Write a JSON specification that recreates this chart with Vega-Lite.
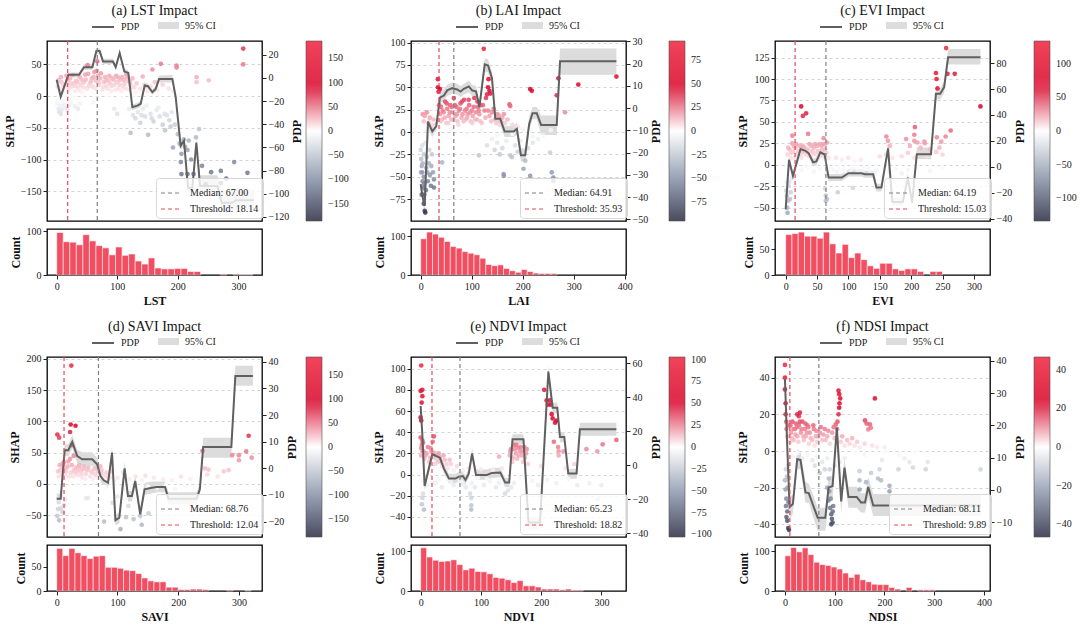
{
  "$schema": "https://vega.github.io/schema/vega-lite/v6.json",
  "padding": {"left": 2, "top": 3, "right": 0, "bottom": 0},
  "config": {
    "font": "Liberation Serif",
    "view": {"stroke": "black", "strokeWidth": 1.3},
    "axis": {"labelFont": "Liberation Serif", "titleFont": "Liberation Serif", "labelFontSize": 10, "titleFontSize": 12, "titleFontWeight": "bold", "labelColor": "#222", "titleColor": "#111", "tickColor": "#222", "domain": false, "grid": false, "gridDash": [3, 3], "gridColor": "#d4d4d4", "tickSize": 4, "labelPadding": 2, "titlePadding": 4},
    "legend": {"labelFont": "Liberation Serif", "labelFontSize": 10, "labelColor": "#222"},
    "title": {"font": "Liberation Serif", "fontSize": 14, "fontWeight": "normal", "color": "#111", "offset": -3}
  },
  "datasets": {
    "sa": [{"x":2,"s":15},{"x":5,"s":8},{"x":8,"s":22},{"x":10,"s":12},{"x":12,"s":5},{"x":15,"s":18},{"x":18,"s":25},{"x":20,"s":10},{"x":22,"s":28},{"x":25,"s":15},{"x":28,"s":20},{"x":30,"s":8},{"x":32,"s":24},{"x":35,"s":14},{"x":38,"s":30},{"x":40,"s":18},{"x":42,"s":6},{"x":45,"s":22},{"x":48,"s":26},{"x":50,"s":12},{"x":52,"s":35},{"x":55,"s":20},{"x":58,"s":28},{"x":60,"s":15},{"x":62,"s":38},{"x":65,"s":24},{"x":68,"s":32},{"x":70,"s":18},{"x":72,"s":28},{"x":75,"s":10},{"x":78,"s":22},{"x":80,"s":30},{"x":82,"s":16},{"x":85,"s":25},{"x":88,"s":20},{"x":90,"s":8},{"x":92,"s":28},{"x":95,"s":18},{"x":98,"s":32},{"x":100,"s":22},{"x":102,"s":12},{"x":105,"s":26},{"x":108,"s":30},{"x":110,"s":15},{"x":112,"s":20},{"x":115,"s":34},{"x":118,"s":24},{"x":120,"s":10},{"x":122,"s":18},{"x":125,"s":28},{"x":128,"s":14},{"x":130,"s":6},{"x":5,"s":-3},{"x":15,"s":2},{"x":25,"s":-2},{"x":45,"s":3},{"x":65,"s":-4},{"x":85,"s":2},{"x":105,"s":-3},{"x":125,"s":2},{"x":140,"s":3},{"x":150,"s":-2},{"x":160,"s":4},{"x":170,"s":2},{"x":180,"s":-4},{"x":1,"s":-12},{"x":3,"s":-20},{"x":4,"s":-25},{"x":6,"s":-15},{"x":8,"s":-22},{"x":10,"s":-8},{"x":14,"s":-18},{"x":20,"s":-14},{"x":30,"s":-16},{"x":38,"s":-12},{"x":60,"s":-10},{"x":95,"s":-20},{"x":100,"s":-28},{"x":132,"s":20},{"x":138,"s":12},{"x":142,"s":31},{"x":145,"s":18},{"x":150,"s":8},{"x":155,"s":15},{"x":158,"s":42},{"x":162,"s":22},{"x":166,"s":10},{"x":172,"s":51},{"x":175,"s":18},{"x":185,"s":12},{"x":192,"s":8},{"x":198,"s":48},{"x":198,"s":45},{"x":231,"s":30},{"x":231,"s":22},{"x":251,"s":25},{"x":308,"s":75},{"x":308,"s":50},{"x":67,"s":55},{"x":51,"s":49},{"x":120,"s":-20},{"x":122,"s":-58},{"x":126,"s":-30},{"x":130,"s":-35},{"x":134,"s":-25},{"x":138,"s":-42},{"x":142,"s":-20},{"x":146,"s":-32},{"x":151,"s":-61},{"x":155,"s":-28},{"x":160,"s":-40},{"x":165,"s":-22},{"x":170,"s":-32},{"x":175,"s":-45},{"x":179,"s":-54},{"x":182,"s":-30},{"x":186,"s":-38},{"x":190,"s":-25},{"x":192,"s":-81},{"x":195,"s":-45},{"x":200,"s":-60},{"x":203,"s":-75},{"x":206,"s":-91},{"x":205,"s":-104},{"x":206,"s":-123},{"x":210,"s":-68},{"x":212,"s":-80},{"x":216,"s":-85},{"x":216,"s":-123},{"x":218,"s":-70},{"x":222,"s":-100},{"x":226,"s":-123},{"x":230,"s":-65},{"x":235,"s":-52},{"x":240,"s":-110},{"x":246,"s":-139},{"x":255,"s":-120},{"x":271,"s":-118},{"x":271,"s":-137},{"x":280,"s":-130},{"x":293,"s":-104},{"x":315,"s":-121},{"x":3,"s":25},{"x":7,"s":30},{"x":11,"s":18},{"x":16,"s":32},{"x":19,"s":14},{"x":23,"s":20},{"x":27,"s":33},{"x":31,"s":16},{"x":34,"s":22},{"x":37,"s":10},{"x":41,"s":26},{"x":44,"s":14},{"x":47,"s":34},{"x":53,"s":16},{"x":57,"s":24},{"x":61,"s":30},{"x":64,"s":12},{"x":66,"s":40},{"x":69,"s":22},{"x":73,"s":36},{"x":77,"s":14},{"x":81,"s":24},{"x":84,"s":12},{"x":87,"s":32},{"x":91,"s":16},{"x":94,"s":26},{"x":97,"s":10},{"x":101,"s":30},{"x":104,"s":18},{"x":107,"s":8},{"x":111,"s":26},{"x":114,"s":12},{"x":117,"s":30},{"x":121,"s":22},{"x":124,"s":14},{"x":2,"s":-8},{"x":7,"s":-28},{"x":12,"s":-14},{"x":17,"s":-22},{"x":24,"s":-10},{"x":35,"s":-20},{"x":140,"s":-30},{"x":148,"s":-15},{"x":157,"s":-35},{"x":168,"s":-18},{"x":178,"s":-28},{"x":188,"s":-48}],
    "pa": [{"x":0,"p":-1.7,"lo":-4,"hi":1},{"x":6.6,"p":-16.2,"lo":-18.5,"hi":-14},{"x":19.3,"p":2.6,"lo":0.5,"hi":4.7},{"x":36.9,"p":2.6,"lo":0.5,"hi":4.7},{"x":45.1,"p":9.2,"lo":7,"hi":11.5},{"x":58.9,"p":9.2,"lo":7,"hi":11.5},{"x":65.5,"p":23.1,"lo":20.5,"hi":25.5},{"x":71,"p":23.1,"lo":20.5,"hi":25.5},{"x":76.5,"p":14.1,"lo":12,"hi":16.5},{"x":93,"p":14.1,"lo":12,"hi":16.5},{"x":97.4,"p":9.2,"lo":7,"hi":11.5},{"x":104,"p":21.4,"lo":19,"hi":24},{"x":111.7,"p":5.5,"lo":3,"hi":8},{"x":118.3,"p":4.3,"lo":2,"hi":6.5},{"x":124.9,"p":-25.4,"lo":-28,"hi":-23},{"x":133.2,"p":-24,"lo":-26.5,"hi":-21.5},{"x":138.7,"p":-22.5,"lo":-25,"hi":-20},{"x":145.3,"p":-6.6,"lo":-9,"hi":-4},{"x":150.8,"p":-7.2,"lo":-9.5,"hi":-5},{"x":158,"p":-12.4,"lo":-15,"hi":-10},{"x":163.5,"p":-9.5,"lo":-12,"hi":-7},{"x":169,"p":-0.9,"lo":-4,"hi":2},{"x":191,"p":-0.9,"lo":-4,"hi":2.5},{"x":196.5,"p":-16.7,"lo":-20,"hi":-13.5},{"x":204.7,"p":-58.6,"lo":-62,"hi":-55},{"x":210.2,"p":-54.2,"lo":-58,"hi":-50.5},{"x":216.8,"p":-94.8,"lo":-98,"hi":-91},{"x":224,"p":-94.8,"lo":-98,"hi":-91},{"x":230.6,"p":-55.8,"lo":-60,"hi":-52},{"x":236.7,"p":-93.2,"lo":-98,"hi":-84},{"x":265.3,"p":-93.2,"lo":-98,"hi":-84},{"x":272.5,"p":-107.7,"lo":-116,"hi":-97},{"x":290.1,"p":-107.7,"lo":-116,"hi":-97},{"x":295.6,"p":-105.6,"lo":-114,"hi":-96},{"x":325.9,"p":-105.6,"lo":-114,"hi":-96}],
    "ha": [{"b0":0,"b1":10.8,"n":97},{"b0":10.8,"b1":21.6,"n":76},{"b0":21.6,"b1":32.4,"n":75},{"b0":32.4,"b1":43.2,"n":69},{"b0":43.2,"b1":54,"n":92},{"b0":54,"b1":64.8,"n":78},{"b0":64.8,"b1":75.6,"n":67},{"b0":75.6,"b1":86.4,"n":62},{"b0":86.4,"b1":97.2,"n":46},{"b0":97.2,"b1":108,"n":64},{"b0":108,"b1":118.8,"n":45},{"b0":118.8,"b1":129.6,"n":48},{"b0":129.6,"b1":140.4,"n":32},{"b0":140.4,"b1":151.2,"n":25},{"b0":151.2,"b1":162,"n":39},{"b0":162,"b1":172.8,"n":16},{"b0":172.8,"b1":183.6,"n":14},{"b0":183.6,"b1":194.4,"n":14},{"b0":194.4,"b1":205.2,"n":15},{"b0":205.2,"b1":216,"n":15},{"b0":216,"b1":226.8,"n":8},{"b0":226.8,"b1":237.6,"n":8},{"b0":270,"b1":280.8,"n":2},{"b0":291.6,"b1":302.4,"n":2},{"b0":302.4,"b1":313.2,"n":1},{"b0":313.2,"b1":324,"n":1}],
    "sb": [{"x":33.8,"s":59},{"x":33.8,"s":50},{"x":37.7,"s":48},{"x":35,"s":45},{"x":123.6,"s":93},{"x":133,"s":59},{"x":132,"s":50},{"x":134.8,"s":46},{"x":136.6,"s":43},{"x":130,"s":42},{"x":128,"s":38},{"x":214.6,"s":48},{"x":217.9,"s":46},{"x":270,"s":60},{"x":266.7,"s":41},{"x":309,"s":53},{"x":383.7,"s":62},{"x":283,"s":22},{"x":174,"s":31},{"x":175.6,"s":29},{"x":4,"s":20},{"x":6,"s":12},{"x":8,"s":18},{"x":12,"s":22},{"x":15,"s":10},{"x":18,"s":16},{"x":22,"s":8},{"x":25,"s":14},{"x":28,"s":6},{"x":38,"s":20},{"x":40,"s":28},{"x":42,"s":14},{"x":45,"s":22},{"x":48,"s":34},{"x":50,"s":10},{"x":52,"s":26},{"x":55,"s":18},{"x":58,"s":30},{"x":60,"s":14},{"x":62,"s":22},{"x":65,"s":38},{"x":68,"s":18},{"x":70,"s":28},{"x":72,"s":12},{"x":75,"s":24},{"x":78,"s":32},{"x":80,"s":16},{"x":82,"s":20},{"x":85,"s":36},{"x":88,"s":14},{"x":90,"s":26},{"x":92,"s":20},{"x":95,"s":30},{"x":98,"s":12},{"x":100,"s":24},{"x":102,"s":18},{"x":105,"s":38},{"x":108,"s":22},{"x":110,"s":14},{"x":112,"s":28},{"x":115,"s":20},{"x":118,"s":30},{"x":120,"s":10},{"x":125,"s":24},{"x":135,"s":18},{"x":140,"s":22},{"x":145,"s":14},{"x":150,"s":20},{"x":155,"s":8},{"x":160,"s":16},{"x":165,"s":10},{"x":170,"s":14},{"x":180,"s":8},{"x":190,"s":6},{"x":10,"s":2},{"x":30,"s":-2},{"x":60,"s":3},{"x":90,"s":-3},{"x":120,"s":2},{"x":150,"s":-4},{"x":180,"s":-2},{"x":200,"s":3},{"x":220,"s":-5},{"x":240,"s":-4},{"x":255,"s":2},{"x":0,"s":-20},{"x":1,"s":-30},{"x":2,"s":-38},{"x":3,"s":-45},{"x":4,"s":-55},{"x":5,"s":-62},{"x":6,"s":-50},{"x":7,"s":-70},{"x":8,"s":-88},{"x":9,"s":-90},{"x":10,"s":-65},{"x":11,"s":-40},{"x":12,"s":-28},{"x":14,"s":-55},{"x":16,"s":-35},{"x":18,"s":-48},{"x":20,"s":-60},{"x":22,"s":-25},{"x":24,"s":-45},{"x":26,"s":-62},{"x":26,"s":-53},{"x":42,"s":-34},{"x":3,"s":-15},{"x":6,"s":-25},{"x":9,"s":-12},{"x":114,"s":-26},{"x":130,"s":-15},{"x":140,"s":-8},{"x":145,"s":-20},{"x":150,"s":-12},{"x":155,"s":-25},{"x":160,"s":-18},{"x":162.6,"s":-47},{"x":163,"s":-49},{"x":168,"s":-10},{"x":175.6,"s":-26},{"x":179,"s":-28},{"x":185,"s":-15},{"x":190,"s":-22},{"x":195,"s":-10},{"x":201.6,"s":-41},{"x":205,"s":-32},{"x":210,"s":-18},{"x":214.6,"s":-49},{"x":220,"s":-12},{"x":230,"s":-8},{"x":253.7,"s":-23},{"x":257,"s":-45},{"x":260,"s":-51},{"x":260,"s":-55},{"x":36,"s":30},{"x":39,"s":12},{"x":43,"s":24},{"x":47,"s":16},{"x":51,"s":32},{"x":54,"s":10},{"x":57,"s":22},{"x":61,"s":28},{"x":64,"s":14},{"x":67,"s":30},{"x":71,"s":20},{"x":74,"s":8},{"x":77,"s":26},{"x":81,"s":34},{"x":84,"s":12},{"x":87,"s":24},{"x":91,"s":16},{"x":94,"s":36},{"x":97,"s":22},{"x":101,"s":10},{"x":104,"s":28},{"x":107,"s":14},{"x":111,"s":34},{"x":114,"s":24},{"x":117,"s":12},{"x":122,"s":30},{"x":127,"s":16},{"x":132,"s":24},{"x":138,"s":12},{"x":143,"s":26},{"x":148,"s":10},{"x":153,"s":18},{"x":158,"s":12},{"x":163,"s":20},{"x":1,"s":-45},{"x":4,"s":-35},{"x":7,"s":-58},{"x":13,"s":-45},{"x":17,"s":-20},{"x":21,"s":-38},{"x":2,"s":-70},{"x":6,"s":-80}],
    "pb": [{"x":0,"p":-34.1,"lo":-37,"hi":-31},{"x":3.3,"p":-39.4,"lo":-42,"hi":-37},{"x":7.8,"p":-43.9,"lo":-47,"hi":-41},{"x":14.3,"p":-6,"lo":-9,"hi":-3},{"x":22.8,"p":-10.4,"lo":-13,"hi":-8},{"x":30.6,"p":-8.1,"lo":-10.5,"hi":-5.5},{"x":37.7,"p":4.7,"lo":2,"hi":7},{"x":45.5,"p":5.7,"lo":3,"hi":8.5},{"x":52,"p":8,"lo":5.5,"hi":10.5},{"x":61.8,"p":9,"lo":6.5,"hi":11.5},{"x":71.5,"p":8.4,"lo":6,"hi":11},{"x":78,"p":7.5,"lo":5,"hi":10},{"x":84.6,"p":8.7,"lo":6,"hi":11},{"x":94.3,"p":9.8,"lo":7,"hi":12.5},{"x":100.8,"p":8,"lo":5.5,"hi":10.5},{"x":108.6,"p":7.5,"lo":5,"hi":10},{"x":115.1,"p":0.5,"lo":-2,"hi":3},{"x":125.5,"p":19.7,"lo":16.5,"hi":22.5},{"x":132,"p":19.2,"lo":16,"hi":22},{"x":139.8,"p":13.5,"lo":10.5,"hi":16.5},{"x":146.3,"p":-4.8,"lo":-7.5,"hi":-2},{"x":156,"p":-4.8,"lo":-7.5,"hi":-2},{"x":164.6,"p":-10.5,"lo":-13,"hi":-8},{"x":182,"p":-10.5,"lo":-13,"hi":-8},{"x":188.6,"p":-9.3,"lo":-12,"hi":-6.5},{"x":196.4,"p":-21.1,"lo":-24,"hi":-18},{"x":204.9,"p":-21.1,"lo":-24,"hi":-18},{"x":212.7,"p":-7.1,"lo":-10,"hi":-4},{"x":219.2,"p":-2.3,"lo":-5,"hi":0.5},{"x":227.6,"p":-2.3,"lo":-5,"hi":0.5},{"x":236.1,"p":-7.5,"lo":-12,"hi":-3.3},{"x":266.7,"p":-7.5,"lo":-12,"hi":-3.3},{"x":273.2,"p":21.1,"lo":15,"hi":26.8},{"x":383.7,"p":21.1,"lo":15,"hi":26.8}],
    "hb": [{"b0":0,"b1":11.6,"n":93},{"b0":11.6,"b1":23.2,"n":110},{"b0":23.2,"b1":34.8,"n":105},{"b0":34.8,"b1":46.4,"n":97},{"b0":46.4,"b1":58,"n":86},{"b0":58,"b1":69.6,"n":73},{"b0":69.6,"b1":81.2,"n":69},{"b0":81.2,"b1":92.8,"n":60},{"b0":92.8,"b1":104.4,"n":56},{"b0":104.4,"b1":116,"n":52},{"b0":116,"b1":127.6,"n":43},{"b0":127.6,"b1":139.2,"n":27},{"b0":139.2,"b1":150.8,"n":24},{"b0":150.8,"b1":162.4,"n":26},{"b0":162.4,"b1":174,"n":17},{"b0":174,"b1":185.6,"n":11},{"b0":185.6,"b1":197.2,"n":7},{"b0":197.2,"b1":208.8,"n":14},{"b0":208.8,"b1":220.4,"n":9},{"b0":220.4,"b1":232,"n":5},{"b0":232,"b1":243.6,"n":4},{"b0":243.6,"b1":255.2,"n":4},{"b0":255.2,"b1":266.8,"n":4}],
    "sc": [{"x":24.7,"s":68},{"x":27.4,"s":57},{"x":32.6,"s":60},{"x":239.5,"s":107},{"x":240.5,"s":100},{"x":242,"s":89},{"x":255.8,"s":136},{"x":257.9,"s":106},{"x":269.5,"s":106},{"x":310.5,"s":68},{"x":10.5,"s":34},{"x":10.5,"s":25},{"x":13,"s":22},{"x":35.8,"s":36},{"x":60.5,"s":31},{"x":54,"s":24},{"x":57,"s":22},{"x":160.5,"s":33},{"x":163,"s":28},{"x":165.8,"s":22},{"x":192,"s":30},{"x":205,"s":35},{"x":206,"s":44},{"x":205,"s":28},{"x":210,"s":26},{"x":221,"s":27},{"x":222,"s":25},{"x":241,"s":32},{"x":255,"s":33},{"x":248,"s":27},{"x":263,"s":40},{"x":198,"s":22},{"x":215,"s":20},{"x":230,"s":18},{"x":240,"s":15},{"x":3,"s":12},{"x":6,"s":18},{"x":8,"s":8},{"x":12,"s":15},{"x":15,"s":20},{"x":18,"s":10},{"x":20,"s":14},{"x":22,"s":22},{"x":25,"s":8},{"x":28,"s":16},{"x":30,"s":20},{"x":32,"s":12},{"x":35,"s":18},{"x":38,"s":24},{"x":40,"s":10},{"x":42,"s":16},{"x":45,"s":20},{"x":48,"s":12},{"x":50,"s":22},{"x":52,"s":8},{"x":55,"s":15},{"x":58,"s":18},{"x":60,"s":10},{"x":62,"s":24},{"x":65,"s":14},{"x":68,"s":8},{"x":80,"s":8},{"x":90,"s":6},{"x":100,"s":8},{"x":110,"s":4},{"x":120,"s":6},{"x":150,"s":10},{"x":160,"s":12},{"x":170,"s":8},{"x":185,"s":10},{"x":195,"s":14},{"x":205,"s":8},{"x":215,"s":12},{"x":225,"s":10},{"x":245,"s":20},{"x":250,"s":12},{"x":5,"s":-5},{"x":15,"s":-4},{"x":25,"s":-6},{"x":35,"s":-3},{"x":45,"s":-8},{"x":55,"s":-5},{"x":65,"s":-10},{"x":75,"s":-6},{"x":85,"s":-3},{"x":95,"s":-8},{"x":105,"s":-5},{"x":115,"s":-7},{"x":125,"s":-4},{"x":135,"s":-9},{"x":145,"s":-6},{"x":155,"s":-3},{"x":165,"s":-8},{"x":175,"s":-5},{"x":185,"s":-10},{"x":195,"s":-6},{"x":210,"s":-4},{"x":230,"s":-7},{"x":250,"s":-3},{"x":1,"s":-30},{"x":2,"s":-36},{"x":2.6,"s":-50},{"x":3,"s":-56},{"x":4,"s":-42},{"x":5,"s":-25},{"x":6,"s":-20},{"x":8,"s":-32},{"x":64,"s":-36},{"x":65.8,"s":-40},{"x":64,"s":-42},{"x":63,"s":-28},{"x":83,"s":-32},{"x":107,"s":-27},{"x":4,"s":20},{"x":9,"s":14},{"x":14,"s":8},{"x":17,"s":24},{"x":21,"s":16},{"x":24,"s":12},{"x":27,"s":22},{"x":33,"s":16},{"x":37,"s":10},{"x":41,"s":22},{"x":44,"s":14},{"x":47,"s":24},{"x":51,"s":16},{"x":54,"s":10},{"x":59,"s":24},{"x":63,"s":18},{"x":66,"s":26},{"x":72,"s":-4},{"x":82,"s":-8},{"x":92,"s":-5},{"x":102,"s":-9},{"x":112,"s":-3},{"x":122,"s":-8},{"x":132,"s":-5},{"x":142,"s":-9},{"x":3,"s":-20},{"x":7,"s":-40},{"x":10,"s":-15}],
    "pc": [{"x":0,"p":-32.8,"lo":-36,"hi":-29},{"x":5.3,"p":5.4,"lo":2,"hi":8.5},{"x":11.6,"p":-7,"lo":-10,"hi":-4},{"x":23.7,"p":13.7,"lo":10.5,"hi":17},{"x":31.6,"p":12.4,"lo":9.5,"hi":15.5},{"x":36.8,"p":10.3,"lo":7.5,"hi":13},{"x":43.7,"p":3.4,"lo":0.5,"hi":6.5},{"x":48.9,"p":4.1,"lo":1,"hi":7},{"x":55.3,"p":11.1,"lo":8,"hi":14},{"x":62.1,"p":9.5,"lo":6.5,"hi":12.5},{"x":68.4,"p":-8.3,"lo":-11,"hi":-5.5},{"x":89.5,"p":-8.3,"lo":-11,"hi":-5.5},{"x":100,"p":-4.9,"lo":-7.5,"hi":-2},{"x":121,"p":-4.9,"lo":-7.5,"hi":-2},{"x":126.3,"p":-5.7,"lo":-8.5,"hi":-3},{"x":139.5,"p":-5.7,"lo":-8.5,"hi":-3},{"x":144.7,"p":-16,"lo":-19,"hi":-13},{"x":152.6,"p":-16,"lo":-19,"hi":-13},{"x":163.2,"p":14.2,"lo":11,"hi":17.5},{"x":170,"p":-27.1,"lo":-30,"hi":-24},{"x":186.8,"p":-27.1,"lo":-30,"hi":-24},{"x":194.7,"p":-8.3,"lo":-11.5,"hi":-5},{"x":201.6,"p":-27.6,"lo":-31,"hi":-24.5},{"x":209,"p":9.8,"lo":6,"hi":15},{"x":231.6,"p":9.8,"lo":6,"hi":15},{"x":239.5,"p":56.3,"lo":52,"hi":60.5},{"x":246.3,"p":56.3,"lo":52,"hi":60.5},{"x":252.6,"p":61.4,"lo":57,"hi":66},{"x":258.9,"p":84.6,"lo":79,"hi":91},{"x":310.5,"p":84.6,"lo":79,"hi":91}],
    "hc": [{"b0":0,"b1":10,"n":79},{"b0":10,"b1":20,"n":81},{"b0":20,"b1":30,"n":84},{"b0":30,"b1":40,"n":76},{"b0":40,"b1":50,"n":76},{"b0":50,"b1":60,"n":72},{"b0":60,"b1":70,"n":84},{"b0":70,"b1":80,"n":61},{"b0":80,"b1":90,"n":43},{"b0":90,"b1":100,"n":60},{"b0":100,"b1":110,"n":34},{"b0":110,"b1":120,"n":43},{"b0":120,"b1":130,"n":30},{"b0":130,"b1":140,"n":18},{"b0":140,"b1":150,"n":13},{"b0":150,"b1":160,"n":23},{"b0":160,"b1":170,"n":23},{"b0":170,"b1":180,"n":12},{"b0":180,"b1":190,"n":9},{"b0":190,"b1":200,"n":12},{"b0":200,"b1":210,"n":12},{"b0":210,"b1":220,"n":7},{"b0":230,"b1":240,"n":7},{"b0":240,"b1":250,"n":7}],
    "sd": [{"x":24,"s":189},{"x":23,"s":95},{"x":31,"s":93},{"x":22,"s":83},{"x":1,"s":79},{"x":4,"s":74},{"x":316,"s":77},{"x":312,"s":52},{"x":300,"s":46},{"x":300,"s":38},{"x":289,"s":46},{"x":321,"s":42},{"x":240,"s":53},{"x":25,"s":62},{"x":28,"s":45},{"x":22,"s":40},{"x":2,"s":20},{"x":5,"s":30},{"x":8,"s":15},{"x":10,"s":25},{"x":12,"s":35},{"x":15,"s":20},{"x":18,"s":28},{"x":20,"s":12},{"x":25,"s":30},{"x":28,"s":22},{"x":30,"s":18},{"x":32,"s":26},{"x":35,"s":14},{"x":38,"s":24},{"x":40,"s":20},{"x":42,"s":10},{"x":45,"s":28},{"x":48,"s":16},{"x":50,"s":22},{"x":55,"s":12},{"x":58,"s":18},{"x":60,"s":8},{"x":62,"s":24},{"x":65,"s":14},{"x":68,"s":20},{"x":70,"s":10},{"x":72,"s":28},{"x":75,"s":16},{"x":78,"s":12},{"x":80,"s":8},{"x":85,"s":14},{"x":90,"s":20},{"x":95,"s":6},{"x":100,"s":10},{"x":110,"s":18},{"x":120,"s":8},{"x":130,"s":12},{"x":140,"s":6},{"x":146,"s":13},{"x":160,"s":10},{"x":175,"s":8},{"x":190,"s":6},{"x":204.6,"s":12},{"x":220,"s":8},{"x":244,"s":25},{"x":250,"s":23},{"x":248,"s":15},{"x":265,"s":12},{"x":275,"s":20},{"x":283,"s":22},{"x":5,"s":2},{"x":20,"s":-4},{"x":40,"s":-2},{"x":60,"s":3},{"x":80,"s":-5},{"x":95,"s":-2},{"x":110,"s":-8},{"x":120,"s":-3},{"x":130,"s":-10},{"x":150,"s":-4},{"x":165,"s":-6},{"x":180,"s":-2},{"x":195,"s":-8},{"x":210,"s":-3},{"x":225,"s":-5},{"x":1,"s":-51},{"x":4,"s":-58},{"x":6.5,"s":-39},{"x":12,"s":-34},{"x":3,"s":-25},{"x":8,"s":-20},{"x":10,"s":-45},{"x":48.5,"s":-23},{"x":52,"s":-22},{"x":78,"s":-60},{"x":105,"s":-72},{"x":114,"s":-53},{"x":126.6,"s":-56},{"x":137.5,"s":-51},{"x":140,"s":-65},{"x":151,"s":-47},{"x":92,"s":-30},{"x":100,"s":-20},{"x":118,"s":-35},{"x":3,"s":12},{"x":6,"s":22},{"x":9,"s":32},{"x":13,"s":16},{"x":16,"s":26},{"x":19,"s":36},{"x":23,"s":18},{"x":27,"s":12},{"x":33,"s":20},{"x":37,"s":30},{"x":41,"s":16},{"x":44,"s":24},{"x":47,"s":8},{"x":52,"s":26},{"x":57,"s":20},{"x":63,"s":16},{"x":67,"s":26},{"x":74,"s":22},{"x":82,"s":18},{"x":88,"s":10},{"x":6,"s":-12},{"x":14,"s":-25},{"x":2,"s":-40}],
    "pd": [{"x":0,"p":-11.4,"lo":-13.5,"hi":-9.5},{"x":6.5,"p":-11.4,"lo":-13.5,"hi":-9.5},{"x":13.1,"p":6.8,"lo":4.5,"hi":9},{"x":19.1,"p":6.8,"lo":4.5,"hi":9},{"x":25.6,"p":9.9,"lo":7.5,"hi":12.5},{"x":33.8,"p":4.6,"lo":2,"hi":7},{"x":42,"p":3.4,"lo":1,"hi":6},{"x":58.4,"p":3.4,"lo":1,"hi":6},{"x":66.6,"p":1.5,"lo":-1,"hi":4},{"x":72,"p":-2.9,"lo":-5,"hi":-0.5},{"x":77.5,"p":-4.5,"lo":-6.5,"hi":-2.5},{"x":84.6,"p":-5.4,"lo":-7.5,"hi":-3},{"x":91.1,"p":5.9,"lo":3.5,"hi":8},{"x":96.6,"p":-19.5,"lo":-21.5,"hi":-17.5},{"x":103.1,"p":-18.5,"lo":-20.5,"hi":-16.5},{"x":111.8,"p":0,"lo":-2.5,"hi":2.5},{"x":117.3,"p":-10.4,"lo":-12.5,"hi":-8.5},{"x":123.8,"p":-10.4,"lo":-12.5,"hi":-8.5},{"x":129.3,"p":-4.8,"lo":-7,"hi":-2.5},{"x":137.5,"p":-17.3,"lo":-19.5,"hi":-15},{"x":144.6,"p":-7.9,"lo":-10,"hi":-5.5},{"x":156.6,"p":-7.3,"lo":-9.5,"hi":-5},{"x":164.8,"p":-7,"lo":-9,"hi":-5},{"x":178.4,"p":-7,"lo":-9,"hi":-5},{"x":183.9,"p":-11.4,"lo":-13.5,"hi":-9},{"x":230.2,"p":-11.4,"lo":-13.5,"hi":-9},{"x":235.7,"p":-7.9,"lo":-10,"hi":-5.5},{"x":241.1,"p":8,"lo":4,"hi":11.5},{"x":287.5,"p":8,"lo":4,"hi":11.5},{"x":294.1,"p":34.7,"lo":31,"hi":38.5},{"x":323,"p":34.7,"lo":31,"hi":38.5}],
    "hd": [{"b0":0,"b1":10,"n":88},{"b0":10,"b1":20,"n":73},{"b0":20,"b1":30,"n":88},{"b0":30,"b1":40,"n":79},{"b0":40,"b1":50,"n":73},{"b0":50,"b1":60,"n":67},{"b0":60,"b1":70,"n":72},{"b0":70,"b1":80,"n":73},{"b0":80,"b1":90,"n":49},{"b0":90,"b1":100,"n":49},{"b0":100,"b1":110,"n":47},{"b0":110,"b1":120,"n":43},{"b0":120,"b1":130,"n":42},{"b0":130,"b1":140,"n":36},{"b0":140,"b1":150,"n":27},{"b0":150,"b1":160,"n":21},{"b0":160,"b1":170,"n":19},{"b0":170,"b1":180,"n":19},{"b0":180,"b1":190,"n":8},{"b0":190,"b1":200,"n":8},{"b0":200,"b1":210,"n":3},{"b0":210,"b1":220,"n":3},{"b0":220,"b1":230,"n":4},{"b0":230,"b1":240,"n":4},{"b0":240,"b1":250,"n":3},{"b0":280,"b1":290,"n":2},{"b0":310,"b1":320,"n":1}],
    "se": [{"x":1,"s":103},{"x":0,"s":79},{"x":2.8,"s":80},{"x":2.8,"s":74},{"x":1.7,"s":68},{"x":0,"s":54},{"x":1,"s":51},{"x":22,"s":36},{"x":20,"s":31},{"x":16.5,"s":25},{"x":205,"s":80},{"x":209,"s":70},{"x":211,"s":66},{"x":214.6,"s":70},{"x":216,"s":66},{"x":217.4,"s":57},{"x":219,"s":53},{"x":223,"s":49},{"x":225.5,"s":51},{"x":221,"s":31},{"x":228,"s":26},{"x":229,"s":22},{"x":237,"s":22},{"x":229,"s":18},{"x":275,"s":24},{"x":293,"s":22},{"x":302,"s":28.6},{"x":324.7,"s":32.7},{"x":0,"s":35},{"x":2,"s":28},{"x":3,"s":22},{"x":1,"s":18},{"x":4,"s":30},{"x":6,"s":15},{"x":10,"s":20},{"x":14,"s":12},{"x":18,"s":22},{"x":25,"s":18},{"x":28,"s":12},{"x":32,"s":16},{"x":36,"s":8},{"x":40,"s":14},{"x":45,"s":6},{"x":50,"s":10},{"x":55,"s":4},{"x":60,"s":8},{"x":70,"s":4},{"x":80,"s":6},{"x":90,"s":3},{"x":100,"s":5},{"x":120,"s":4},{"x":135,"s":6},{"x":148,"s":18},{"x":150,"s":24},{"x":152,"s":12},{"x":155,"s":28},{"x":158,"s":20},{"x":160,"s":15},{"x":162,"s":25},{"x":165,"s":22},{"x":168,"s":18},{"x":170,"s":12},{"x":172,"s":26},{"x":175,"s":20},{"x":178,"s":10},{"x":130,"s":17},{"x":200,"s":8},{"x":240,"s":6},{"x":255,"s":10},{"x":5,"s":-5},{"x":10,"s":-10},{"x":15,"s":-3},{"x":25,"s":-8},{"x":35,"s":-12},{"x":45,"s":-4},{"x":55,"s":-10},{"x":65,"s":-6},{"x":75,"s":-12},{"x":85,"s":-8},{"x":95,"s":-3},{"x":105,"s":-10},{"x":115,"s":-6},{"x":125,"s":-12},{"x":135,"s":-4},{"x":145,"s":-15},{"x":155,"s":-8},{"x":165,"s":-3},{"x":185,"s":-6},{"x":195,"s":-10},{"x":210,"s":-5},{"x":225,"s":-8},{"x":245,"s":-4},{"x":260,"s":-10},{"x":280,"s":-8},{"x":300,"s":-10},{"x":5.5,"s":-33},{"x":2.8,"s":-22},{"x":4,"s":-18},{"x":84,"s":-22},{"x":84,"s":-29},{"x":84,"s":-33},{"x":82,"s":-18},{"x":294,"s":-23},{"x":140,"s":-18},{"x":1,"s":25},{"x":3,"s":32},{"x":5,"s":22},{"x":8,"s":18},{"x":12,"s":26},{"x":16,"s":16},{"x":21,"s":20},{"x":24,"s":10},{"x":30,"s":20},{"x":34,"s":12},{"x":38,"s":18},{"x":43,"s":10},{"x":48,"s":14},{"x":149,"s":22},{"x":153,"s":16},{"x":156,"s":24},{"x":159,"s":28},{"x":163,"s":18},{"x":166,"s":26},{"x":169,"s":22},{"x":173,"s":16},{"x":176,"s":24},{"x":20,"s":-8},{"x":30,"s":-5},{"x":50,"s":-7},{"x":70,"s":-9},{"x":90,"s":-12},{"x":110,"s":-4},{"x":130,"s":-8},{"x":150,"s":-12},{"x":2,"s":-28}],
    "pe": [{"x":0,"p":34.9,"lo":31,"hi":38.5},{"x":2.8,"p":18.2,"lo":15,"hi":21.5},{"x":6.6,"p":-12.2,"lo":-15,"hi":-9.5},{"x":19.3,"p":6.5,"lo":3.5,"hi":9.5},{"x":31.9,"p":4.5,"lo":1.5,"hi":7.5},{"x":38.5,"p":-1.8,"lo":-4.5,"hi":1},{"x":46.8,"p":-7.8,"lo":-10.5,"hi":-5},{"x":57.8,"p":-7.8,"lo":-10.5,"hi":-5},{"x":63.3,"p":-6.7,"lo":-9.5,"hi":-4},{"x":69.9,"p":-6.3,"lo":-9,"hi":-3.5},{"x":74.3,"p":-8.6,"lo":-11.5,"hi":-6},{"x":79.8,"p":-4.9,"lo":-7.5,"hi":-2},{"x":85.3,"p":6.9,"lo":3.5,"hi":10},{"x":91.9,"p":-5.7,"lo":-8.5,"hi":-2.5},{"x":110,"p":-5.7,"lo":-8.5,"hi":-2.5},{"x":118.3,"p":-4.5,"lo":-7.5,"hi":-1.5},{"x":132.1,"p":-4.3,"lo":-7,"hi":-1.5},{"x":140.3,"p":-10.2,"lo":-13,"hi":-7.5},{"x":146.9,"p":-10.2,"lo":-13,"hi":-7.5},{"x":152.4,"p":15.3,"lo":12.4,"hi":18.2},{"x":170.6,"p":15.3,"lo":12.4,"hi":18.2},{"x":178.9,"p":-33.7,"lo":-37.6,"hi":-30.8},{"x":198.1,"p":-33.7,"lo":-37.6,"hi":-30.8},{"x":211.9,"p":55.1,"lo":51,"hi":58.5},{"x":219,"p":33.9,"lo":30.5,"hi":37},{"x":226.7,"p":33.9,"lo":30.5,"hi":37},{"x":231.1,"p":16.7,"lo":13.5,"hi":19.5},{"x":238.3,"p":16.7,"lo":13.5,"hi":19.5},{"x":244.9,"p":-4.9,"lo":-8,"hi":-2},{"x":258.7,"p":-4.9,"lo":-8,"hi":-2},{"x":264.2,"p":21.2,"lo":17.3,"hi":25},{"x":324.7,"p":21.2,"lo":17.3,"hi":25}],
    "he": [{"b0":0,"b1":10,"n":108},{"b0":10,"b1":20,"n":85},{"b0":20,"b1":30,"n":77},{"b0":30,"b1":40,"n":74},{"b0":40,"b1":50,"n":75},{"b0":50,"b1":60,"n":78},{"b0":60,"b1":70,"n":66},{"b0":70,"b1":80,"n":53},{"b0":80,"b1":90,"n":57},{"b0":90,"b1":100,"n":49},{"b0":100,"b1":110,"n":48},{"b0":110,"b1":120,"n":43},{"b0":120,"b1":130,"n":34},{"b0":130,"b1":140,"n":32},{"b0":140,"b1":150,"n":28},{"b0":150,"b1":160,"n":21},{"b0":160,"b1":170,"n":26},{"b0":170,"b1":180,"n":13},{"b0":180,"b1":190,"n":13},{"b0":190,"b1":200,"n":10},{"b0":200,"b1":210,"n":5},{"b0":210,"b1":220,"n":5},{"b0":220,"b1":230,"n":5},{"b0":230,"b1":240,"n":3},{"b0":240,"b1":250,"n":5},{"b0":250,"b1":260,"n":2},{"b0":260,"b1":270,"n":2}],
    "sf": [{"x":0,"s":47},{"x":0,"s":40},{"x":0,"s":33.6},{"x":1.3,"s":26},{"x":1.3,"s":20},{"x":2.7,"s":16},{"x":30,"s":21},{"x":28,"s":19},{"x":24.6,"s":20},{"x":107.6,"s":33},{"x":109,"s":31},{"x":111,"s":28.7},{"x":109.6,"s":26},{"x":109,"s":23.6},{"x":107.6,"s":20},{"x":105.6,"s":16},{"x":102,"s":14.5},{"x":180.7,"s":28.7},{"x":160.8,"s":16.7},{"x":164,"s":15},{"x":167.4,"s":11.8},{"x":170.7,"s":14.5},{"x":172.7,"s":12.7},{"x":3,"s":12},{"x":5,"s":8},{"x":8,"s":14},{"x":10,"s":5},{"x":12,"s":10},{"x":15,"s":16},{"x":18,"s":6},{"x":20,"s":12},{"x":22,"s":15},{"x":25,"s":8},{"x":28,"s":14},{"x":32,"s":10},{"x":35,"s":16},{"x":38,"s":6},{"x":40,"s":12},{"x":42,"s":8},{"x":45,"s":14},{"x":48,"s":4},{"x":50,"s":10},{"x":55,"s":6},{"x":58,"s":12},{"x":60,"s":3},{"x":62,"s":8},{"x":65,"s":5},{"x":70,"s":10},{"x":75,"s":6},{"x":80,"s":12},{"x":85,"s":8},{"x":90,"s":4},{"x":95,"s":10},{"x":100,"s":7},{"x":105,"s":12},{"x":112,"s":5},{"x":115,"s":8},{"x":120,"s":3},{"x":125,"s":6},{"x":130,"s":4},{"x":135,"s":7},{"x":140,"s":3},{"x":145,"s":5},{"x":150,"s":2},{"x":160,"s":4},{"x":175,"s":3},{"x":185,"s":2},{"x":200,"s":2},{"x":5,"s":-2},{"x":15,"s":-3},{"x":25,"s":-1},{"x":35,"s":-4},{"x":45,"s":-2},{"x":55,"s":-5},{"x":65,"s":-3},{"x":75,"s":-6},{"x":85,"s":-4},{"x":105,"s":-2},{"x":120,"s":-4},{"x":140,"s":-1},{"x":160,"s":-2},{"x":200,"s":-1},{"x":230,"s":-2},{"x":260,"s":-1},{"x":0,"s":-16},{"x":1.3,"s":-21},{"x":2.7,"s":-26},{"x":4.7,"s":-33},{"x":4.7,"s":-38},{"x":6.6,"s":-42},{"x":8,"s":-43},{"x":2,"s":-10},{"x":4,"s":-14},{"x":6,"s":-8},{"x":87.7,"s":-27},{"x":91,"s":-31},{"x":93,"s":-34.5},{"x":94.4,"s":-37},{"x":95.7,"s":-39},{"x":93,"s":-40},{"x":85,"s":-20},{"x":88,"s":-15},{"x":90,"s":-10},{"x":60,"s":-8},{"x":70,"s":-12},{"x":80,"s":-10},{"x":150,"s":-11},{"x":150,"s":-16},{"x":150,"s":-21},{"x":163,"s":-17},{"x":173,"s":-12},{"x":187,"s":-15},{"x":190,"s":-10},{"x":193,"s":-16},{"x":210,"s":-19},{"x":210,"s":-22},{"x":228,"s":-10},{"x":250,"s":-6},{"x":257,"s":-9},{"x":287,"s":-6},{"x":283,"s":-10},{"x":393,"s":-10},{"x":195,"s":-5},{"x":240,"s":-4},{"x":11,"s":14},{"x":14,"s":7},{"x":17,"s":12},{"x":21,"s":9},{"x":24,"s":13},{"x":27,"s":5},{"x":30,"s":16},{"x":33,"s":12},{"x":37,"s":8},{"x":41,"s":15},{"x":44,"s":10},{"x":47,"s":13},{"x":52,"s":7},{"x":57,"s":14},{"x":63,"s":11},{"x":67,"s":8},{"x":72,"s":13},{"x":77,"s":9},{"x":82,"s":6},{"x":87,"s":11},{"x":98,"s":13},{"x":2,"s":-30},{"x":3,"s":-36},{"x":5,"s":-20},{"x":7,"s":-28},{"x":89,"s":-22},{"x":92,"s":-26},{"x":96,"s":-33},{"x":97,"s":-30},{"x":100,"s":-8},{"x":110,"s":-6}],
    "pf": [{"x":0,"p":34.3,"lo":30,"hi":38},{"x":4.7,"p":13.1,"lo":9,"hi":17},{"x":9.3,"p":-5.3,"lo":-9,"hi":-2},{"x":15.9,"p":-4.4,"lo":-7.5,"hi":-1.5},{"x":24.6,"p":9.5,"lo":6.5,"hi":12.5},{"x":31.2,"p":9.3,"lo":6.5,"hi":12},{"x":41.2,"p":-0.8,"lo":-4,"hi":2.5},{"x":47.8,"p":-1,"lo":-4,"hi":2},{"x":57.8,"p":-5.3,"lo":-9,"hi":-2},{"x":65.8,"p":-8.6,"lo":-12.7,"hi":-5.5},{"x":81.1,"p":-8.6,"lo":-12.7,"hi":-5.5},{"x":87.7,"p":0.7,"lo":-3,"hi":4},{"x":95.7,"p":1.2,"lo":-2.5,"hi":4.5},{"x":104.3,"p":19.3,"lo":15.5,"hi":23},{"x":113,"p":-3.6,"lo":-7,"hi":-0.5},{"x":119.6,"p":6.9,"lo":3.5,"hi":10},{"x":127.6,"p":-2.2,"lo":-5.5,"hi":1},{"x":144.2,"p":-2.2,"lo":-5.5,"hi":1},{"x":152.8,"p":-3.9,"lo":-7,"hi":-1},{"x":160.8,"p":-3.9,"lo":-7,"hi":-1},{"x":167.4,"p":0.9,"lo":-2.5,"hi":4},{"x":177.4,"p":-4.8,"lo":-8.1,"hi":-1.3},{"x":393.4,"p":-4.8,"lo":-8.1,"hi":-1.3}],
    "hf": [{"b0":0,"b1":11.6,"n":88},{"b0":11.6,"b1":23.2,"n":109},{"b0":23.2,"b1":34.8,"n":98},{"b0":34.8,"b1":46.4,"n":108},{"b0":46.4,"b1":58,"n":91},{"b0":58,"b1":69.6,"n":72},{"b0":69.6,"b1":81.2,"n":66},{"b0":81.2,"b1":92.8,"n":64},{"b0":92.8,"b1":104.4,"n":60},{"b0":104.4,"b1":116,"n":55},{"b0":116,"b1":127.6,"n":45},{"b0":127.6,"b1":139.2,"n":34},{"b0":139.2,"b1":150.8,"n":42},{"b0":150.8,"b1":162.4,"n":28},{"b0":162.4,"b1":174,"n":23},{"b0":174,"b1":185.6,"n":17},{"b0":185.6,"b1":197.2,"n":16},{"b0":197.2,"b1":208.8,"n":16},{"b0":208.8,"b1":220.4,"n":9},{"b0":220.4,"b1":232,"n":5},{"b0":243.6,"b1":255.2,"n":9},{"b0":266.8,"b1":278.4,"n":3},{"b0":278.4,"b1":290,"n":3},{"b0":290,"b1":301.6,"n":3}]
  },
  "resolve": {"scale": {"x": "independent", "y": "independent", "fill": "independent", "color": "independent", "stroke": "independent", "opacity": "independent"}},
  "columns": 3,
  "align": "each",
  "bounds": "flush",
  "spacing": {"row": 8, "column": 149},
  "concat": [
    {
      "width": 215, "height": 180, "title": "(a) LST Impact",
      "resolve": {"scale": {"y": "independent"}},
      "layer": [
        {"data": {"name": "pa"}, "mark": {"type": "area", "fill": "#dcdcdc"},
         "encoding": {
           "x": {"field": "x", "type": "quantitative", "scale": {"domain": [-16, 339], "nice": false, "zero": false}, "axis": null},
           "y": {"field": "lo", "type": "quantitative", "scale": {"domain": [-123.5, 31.8], "nice": false, "zero": false}, "axis": {"orient": "right", "title": "PDP", "titleAngle": 270, "titlePadding": 15, "values": [-120, -100, -80, -60, -40, -20, 0, 20]}},
           "y2": {"field": "hi"},
           "opacity": {"datum": "95% CI", "scale": {"domain": ["95% CI"], "range": [0.75]}, "legend": {"orient": "none", "legendX": 111, "legendY": -26, "title": null, "symbolType": "M-1,-0.33H1V0.33H-1Z", "symbolSize": 441, "symbolFillColor": "#e3e3e3", "symbolStrokeColor": "transparent", "symbolStrokeWidth": 0, "labelOffset": 6}}
         }},
        {"data": {"name": "sa"}, "mark": {"type": "circle", "size": 22, "opacity": 0.85},
         "encoding": {
           "x": {"field": "x", "type": "quantitative", "scale": {"domain": [-16, 339], "nice": false, "zero": false}, "axis": {"labels": false, "ticks": false, "title": null, "grid": true, "values": [0, 100, 200, 300]}},
           "y": {"field": "s", "type": "quantitative", "scale": {"domain": [-197, 87], "nice": false, "zero": false}, "axis": {"orient": "left", "title": "SHAP", "grid": true, "values": [-150, -100, -50, 0, 50]}},
           "fill": {"field": "s", "type": "quantitative", "scale": {"domain": [-186, -93, 0, 93, 186], "range": ["#2b2d42", "#8d99ae", "#ffffff", "#d90429", "#ef233c"], "interpolate": "rgb"},
             "legend": {"orient": "none", "legendX": 259, "legendY": 0, "direction": "vertical", "title": null, "gradientLength": 180, "gradientThickness": 16, "gradientStrokeColor": "#333", "gradientStrokeWidth": 0.6, "labelOffset": 6, "values": [-150, -100, -50, 0, 50, 100, 150]}}
         }},
        {"data": {"name": "pa"}, "mark": {"type": "line", "strokeWidth": 2},
         "encoding": {
           "x": {"field": "x", "type": "quantitative", "scale": {"domain": [-16, 339], "nice": false, "zero": false}, "axis": null},
           "y": {"field": "p", "type": "quantitative", "scale": {"domain": [-123.5, 31.8], "nice": false, "zero": false}, "axis": null},
           "color": {"datum": "PDP", "scale": {"domain": ["PDP"], "range": ["#606060"]}, "legend": {"orient": "none", "legendX": 44, "legendY": -26, "title": null, "symbolType": "stroke", "symbolSize": 484, "symbolStrokeWidth": 2, "labelOffset": 6}}
         }},
        {"data": {"values": [{"x": 67.00, "lab": "Median: 67.00"}, {"x": 18.14, "lab": "Threshold: 18.14"}]}, "mark": {"type": "rule", "strokeDash": [4, 3], "strokeWidth": 1.2},
         "encoding": {
           "x": {"field": "x", "type": "quantitative", "scale": {"domain": [-16, 339], "nice": false, "zero": false}, "axis": null},
           "stroke": {"field": "lab", "type": "nominal", "scale": {"domain": ["Median: 67.00", "Threshold: 18.14"], "range": ["#808080", "#e8485b"]},
             "legend": {"orient": "none", "legendX": 109, "legendY": 137, "title": null, "symbolType": "stroke", "symbolDash": [4, 3], "symbolStrokeWidth": 1.2, "symbolSize": 400, "fillColor": "rgba(255,255,255,0.8)", "strokeColor": "#d8d8d8", "padding": 4, "cornerRadius": 3, "rowPadding": 0, "labelOffset": 8}}
         }}
      ]
    },
    {
      "width": 215, "height": 180, "title": "(b) LAI Impact",
      "resolve": {"scale": {"y": "independent"}},
      "layer": [
        {"data": {"name": "pb"}, "mark": {"type": "area", "fill": "#dcdcdc"},
         "encoding": {
           "x": {"field": "x", "type": "quantitative", "scale": {"domain": [-19, 402.5], "nice": false, "zero": false}, "axis": null},
           "y": {"field": "lo", "type": "quantitative", "scale": {"domain": [-50.7, 30.2], "nice": false, "zero": false}, "axis": {"orient": "right", "title": "PDP", "titleAngle": 270, "titlePadding": 15, "values": [-50, -40, -30, -20, -10, 0, 10, 20, 30]}},
           "y2": {"field": "hi"},
           "opacity": {"datum": "95% CI", "scale": {"domain": ["95% CI"], "range": [0.75]}, "legend": {"orient": "none", "legendX": 111, "legendY": -26, "title": null, "symbolType": "M-1,-0.33H1V0.33H-1Z", "symbolSize": 441, "symbolFillColor": "#e3e3e3", "symbolStrokeColor": "transparent", "symbolStrokeWidth": 0, "labelOffset": 6}}
         }},
        {"data": {"name": "sb"}, "mark": {"type": "circle", "size": 22, "opacity": 0.85},
         "encoding": {
           "x": {"field": "x", "type": "quantitative", "scale": {"domain": [-19, 402.5], "nice": false, "zero": false}, "axis": {"labels": false, "ticks": false, "title": null, "grid": true, "values": [0, 100, 200, 300, 400]}},
           "y": {"field": "s", "type": "quantitative", "scale": {"domain": [-99.4, 101.7], "nice": false, "zero": false}, "axis": {"orient": "left", "title": "SHAP", "grid": true, "values": [-75, -50, -25, 0, 25, 50, 75, 100]}},
           "fill": {"field": "s", "type": "quantitative", "scale": {"domain": [-95, -47.5, 0, 47.5, 95], "range": ["#2b2d42", "#8d99ae", "#ffffff", "#d90429", "#ef233c"], "interpolate": "rgb"},
             "legend": {"orient": "none", "legendX": 258, "legendY": 0, "direction": "vertical", "title": null, "gradientLength": 180, "gradientThickness": 16, "gradientStrokeColor": "#333", "gradientStrokeWidth": 0.6, "labelOffset": 6, "values": [-75, -50, -25, 0, 25, 50, 75]}}
         }},
        {"data": {"name": "pb"}, "mark": {"type": "line", "strokeWidth": 2},
         "encoding": {
           "x": {"field": "x", "type": "quantitative", "scale": {"domain": [-19, 402.5], "nice": false, "zero": false}, "axis": null},
           "y": {"field": "p", "type": "quantitative", "scale": {"domain": [-50.7, 30.2], "nice": false, "zero": false}, "axis": null},
           "color": {"datum": "PDP", "scale": {"domain": ["PDP"], "range": ["#606060"]}, "legend": {"orient": "none", "legendX": 44, "legendY": -26, "title": null, "symbolType": "stroke", "symbolSize": 484, "symbolStrokeWidth": 2, "labelOffset": 6}}
         }},
        {"data": {"values": [{"x": 64.91, "lab": "Median: 64.91"}, {"x": 35.93, "lab": "Threshold: 35.93"}]}, "mark": {"type": "rule", "strokeDash": [4, 3], "strokeWidth": 1.2},
         "encoding": {
           "x": {"field": "x", "type": "quantitative", "scale": {"domain": [-19, 402.5], "nice": false, "zero": false}, "axis": null},
           "stroke": {"field": "lab", "type": "nominal", "scale": {"domain": ["Median: 64.91", "Threshold: 35.93"], "range": ["#808080", "#e8485b"]},
             "legend": {"orient": "none", "legendX": 109, "legendY": 137, "title": null, "symbolType": "stroke", "symbolDash": [4, 3], "symbolStrokeWidth": 1.2, "symbolSize": 400, "fillColor": "rgba(255,255,255,0.8)", "strokeColor": "#d8d8d8", "padding": 4, "cornerRadius": 3, "rowPadding": 0, "labelOffset": 8}}
         }}
      ]
    },
    {
      "width": 215, "height": 180, "title": "(c) EVI Impact",
      "resolve": {"scale": {"y": "independent"}},
      "layer": [
        {"data": {"name": "pc"}, "mark": {"type": "area", "fill": "#dcdcdc"},
         "encoding": {
           "x": {"field": "x", "type": "quantitative", "scale": {"domain": [-17, 325.7], "nice": false, "zero": false}, "axis": null},
           "y": {"field": "lo", "type": "quantitative", "scale": {"domain": [-41.8, 97.1], "nice": false, "zero": false}, "axis": {"orient": "right", "title": "PDP", "titleAngle": 270, "titlePadding": 15, "values": [-40, -20, 0, 20, 40, 60, 80]}},
           "y2": {"field": "hi"},
           "opacity": {"datum": "95% CI", "scale": {"domain": ["95% CI"], "range": [0.75]}, "legend": {"orient": "none", "legendX": 111, "legendY": -26, "title": null, "symbolType": "M-1,-0.33H1V0.33H-1Z", "symbolSize": 441, "symbolFillColor": "#e3e3e3", "symbolStrokeColor": "transparent", "symbolStrokeWidth": 0, "labelOffset": 6}}
         }},
        {"data": {"name": "sc"}, "mark": {"type": "circle", "size": 22, "opacity": 0.85},
         "encoding": {
           "x": {"field": "x", "type": "quantitative", "scale": {"domain": [-17, 325.7], "nice": false, "zero": false}, "axis": {"labels": false, "ticks": false, "title": null, "grid": true, "values": [0, 50, 100, 150, 200, 250, 300]}},
           "y": {"field": "s", "type": "quantitative", "scale": {"domain": [-65.5, 144.3], "nice": false, "zero": false}, "axis": {"orient": "left", "title": "SHAP", "grid": true, "values": [-50, -25, 0, 25, 50, 75, 100, 125]}},
           "fill": {"field": "s", "type": "quantitative", "scale": {"domain": [-134, -67, 0, 67, 134], "range": ["#2b2d42", "#8d99ae", "#ffffff", "#d90429", "#ef233c"], "interpolate": "rgb"},
             "legend": {"orient": "none", "legendX": 259, "legendY": 0, "direction": "vertical", "title": null, "gradientLength": 180, "gradientThickness": 16, "gradientStrokeColor": "#333", "gradientStrokeWidth": 0.6, "labelOffset": 6, "values": [-100, -50, 0, 50, 100]}}
         }},
        {"data": {"name": "pc"}, "mark": {"type": "line", "strokeWidth": 2},
         "encoding": {
           "x": {"field": "x", "type": "quantitative", "scale": {"domain": [-17, 325.7], "nice": false, "zero": false}, "axis": null},
           "y": {"field": "p", "type": "quantitative", "scale": {"domain": [-41.8, 97.1], "nice": false, "zero": false}, "axis": null},
           "color": {"datum": "PDP", "scale": {"domain": ["PDP"], "range": ["#606060"]}, "legend": {"orient": "none", "legendX": 44, "legendY": -26, "title": null, "symbolType": "stroke", "symbolSize": 484, "symbolStrokeWidth": 2, "labelOffset": 6}}
         }},
        {"data": {"values": [{"x": 64.19, "lab": "Median: 64.19"}, {"x": 15.03, "lab": "Threshold: 15.03"}]}, "mark": {"type": "rule", "strokeDash": [4, 3], "strokeWidth": 1.2},
         "encoding": {
           "x": {"field": "x", "type": "quantitative", "scale": {"domain": [-17, 325.7], "nice": false, "zero": false}, "axis": null},
           "stroke": {"field": "lab", "type": "nominal", "scale": {"domain": ["Median: 64.19", "Threshold: 15.03"], "range": ["#808080", "#e8485b"]},
             "legend": {"orient": "none", "legendX": 109, "legendY": 137, "title": null, "symbolType": "stroke", "symbolDash": [4, 3], "symbolStrokeWidth": 1.2, "symbolSize": 400, "fillColor": "rgba(255,255,255,0.8)", "strokeColor": "#d8d8d8", "padding": 4, "cornerRadius": 3, "rowPadding": 0, "labelOffset": 8}}
         }}
      ]
    },
    {
      "width": 215, "height": 46, "data": {"name": "ha"},
      "mark": {"type": "bar", "color": "#ef233c", "opacity": 0.8, "stroke": "white", "strokeWidth": 0.6},
      "encoding": {
        "x": {"field": "b0", "type": "quantitative", "scale": {"domain": [-16, 339], "nice": false, "zero": false}, "axis": {"title": "LST", "values": [0, 100, 200, 300]}},
        "x2": {"field": "b1"},
        "y": {"field": "n", "type": "quantitative", "scale": {"domain": [0, 105], "nice": false}, "axis": {"title": "Count", "values": [0, 100]}},
        "y2": {"datum": 0}
      }
    },
    {
      "width": 215, "height": 46, "data": {"name": "hb"},
      "mark": {"type": "bar", "color": "#ef233c", "opacity": 0.8, "stroke": "white", "strokeWidth": 0.6},
      "encoding": {
        "x": {"field": "b0", "type": "quantitative", "scale": {"domain": [-19, 402.5], "nice": false, "zero": false}, "axis": {"title": "LAI", "values": [0, 100, 200, 300, 400]}},
        "x2": {"field": "b1"},
        "y": {"field": "n", "type": "quantitative", "scale": {"domain": [0, 118], "nice": false}, "axis": {"title": "Count", "values": [0, 100]}},
        "y2": {"datum": 0}
      }
    },
    {
      "width": 215, "height": 46, "data": {"name": "hc"},
      "mark": {"type": "bar", "color": "#ef233c", "opacity": 0.8, "stroke": "white", "strokeWidth": 0.6},
      "encoding": {
        "x": {"field": "b0", "type": "quantitative", "scale": {"domain": [-17, 325.7], "nice": false, "zero": false}, "axis": {"title": "EVI", "values": [0, 50, 100, 150, 200, 250, 300]}},
        "x2": {"field": "b1"},
        "y": {"field": "n", "type": "quantitative", "scale": {"domain": [0, 90], "nice": false}, "axis": {"title": "Count", "values": [0, 50]}},
        "y2": {"datum": 0}
      }
    },
    {"width": 215, "height": 66, "data": {"values": []}, "mark": "point", "encoding": {}, "view": {"stroke": null}},
    {"width": 215, "height": 66, "data": {"values": []}, "mark": "point", "encoding": {}, "view": {"stroke": null}},
    {"width": 215, "height": 66, "data": {"values": []}, "mark": "point", "encoding": {}, "view": {"stroke": null}},
    {
      "width": 215, "height": 180, "title": "(d) SAVI Impact",
      "resolve": {"scale": {"y": "independent"}},
      "layer": [
        {"data": {"name": "pd"}, "mark": {"type": "area", "fill": "#dcdcdc"},
         "encoding": {
           "x": {"field": "x", "type": "quantitative", "scale": {"domain": [-16, 338], "nice": false, "zero": false}, "axis": null},
           "y": {"field": "lo", "type": "quantitative", "scale": {"domain": [-25.8, 41.8], "nice": false, "zero": false}, "axis": {"orient": "right", "title": "PDP", "titleAngle": 270, "titlePadding": 15, "values": [-20, -10, 0, 10, 20, 30, 40]}},
           "y2": {"field": "hi"},
           "opacity": {"datum": "95% CI", "scale": {"domain": ["95% CI"], "range": [0.75]}, "legend": {"orient": "none", "legendX": 111, "legendY": -26, "title": null, "symbolType": "M-1,-0.33H1V0.33H-1Z", "symbolSize": 441, "symbolFillColor": "#e3e3e3", "symbolStrokeColor": "transparent", "symbolStrokeWidth": 0, "labelOffset": 6}}
         }},
        {"data": {"name": "sd"}, "mark": {"type": "circle", "size": 22, "opacity": 0.85},
         "encoding": {
           "x": {"field": "x", "type": "quantitative", "scale": {"domain": [-16, 338], "nice": false, "zero": false}, "axis": {"labels": false, "ticks": false, "title": null, "grid": true, "values": [0, 100, 200, 300]}},
           "y": {"field": "s", "type": "quantitative", "scale": {"domain": [-84.6, 202.7], "nice": false, "zero": false}, "axis": {"orient": "left", "title": "SHAP", "grid": true, "values": [-50, 0, 50, 100, 150, 200]}},
           "fill": {"field": "s", "type": "quantitative", "scale": {"domain": [-187, -93.5, 0, 93.5, 187], "range": ["#2b2d42", "#8d99ae", "#ffffff", "#d90429", "#ef233c"], "interpolate": "rgb"},
             "legend": {"orient": "none", "legendX": 259, "legendY": 0, "direction": "vertical", "title": null, "gradientLength": 180, "gradientThickness": 16, "gradientStrokeColor": "#333", "gradientStrokeWidth": 0.6, "labelOffset": 6, "values": [-150, -100, -50, 0, 50, 100, 150]}}
         }},
        {"data": {"name": "pd"}, "mark": {"type": "line", "strokeWidth": 2},
         "encoding": {
           "x": {"field": "x", "type": "quantitative", "scale": {"domain": [-16, 338], "nice": false, "zero": false}, "axis": null},
           "y": {"field": "p", "type": "quantitative", "scale": {"domain": [-25.8, 41.8], "nice": false, "zero": false}, "axis": null},
           "color": {"datum": "PDP", "scale": {"domain": ["PDP"], "range": ["#606060"]}, "legend": {"orient": "none", "legendX": 44, "legendY": -26, "title": null, "symbolType": "stroke", "symbolSize": 484, "symbolStrokeWidth": 2, "labelOffset": 6}}
         }},
        {"data": {"values": [{"x": 68.76, "lab": "Median: 68.76"}, {"x": 12.04, "lab": "Threshold: 12.04"}]}, "mark": {"type": "rule", "strokeDash": [4, 3], "strokeWidth": 1.2},
         "encoding": {
           "x": {"field": "x", "type": "quantitative", "scale": {"domain": [-16, 338], "nice": false, "zero": false}, "axis": null},
           "stroke": {"field": "lab", "type": "nominal", "scale": {"domain": ["Median: 68.76", "Threshold: 12.04"], "range": ["#808080", "#e8485b"]},
             "legend": {"orient": "none", "legendX": 109, "legendY": 137, "title": null, "symbolType": "stroke", "symbolDash": [4, 3], "symbolStrokeWidth": 1.2, "symbolSize": 400, "fillColor": "rgba(255,255,255,0.8)", "strokeColor": "#d8d8d8", "padding": 4, "cornerRadius": 3, "rowPadding": 0, "labelOffset": 8}}
         }}
      ]
    },
    {
      "width": 215, "height": 180, "title": "(e) NDVI Impact",
      "resolve": {"scale": {"y": "independent"}},
      "layer": [
        {"data": {"name": "pe"}, "mark": {"type": "area", "fill": "#dcdcdc"},
         "encoding": {
           "x": {"field": "x", "type": "quantitative", "scale": {"domain": [-16, 340.7], "nice": false, "zero": false}, "axis": null},
           "y": {"field": "lo", "type": "quantitative", "scale": {"domain": [-42.2, 63.7], "nice": false, "zero": false}, "axis": {"orient": "right", "title": "PDP", "titleAngle": 270, "titlePadding": 15, "values": [-40, -20, 0, 20, 40, 60]}},
           "y2": {"field": "hi"},
           "opacity": {"datum": "95% CI", "scale": {"domain": ["95% CI"], "range": [0.75]}, "legend": {"orient": "none", "legendX": 111, "legendY": -26, "title": null, "symbolType": "M-1,-0.33H1V0.33H-1Z", "symbolSize": 441, "symbolFillColor": "#e3e3e3", "symbolStrokeColor": "transparent", "symbolStrokeWidth": 0, "labelOffset": 6}}
         }},
        {"data": {"name": "se"}, "mark": {"type": "circle", "size": 22, "opacity": 0.85},
         "encoding": {
           "x": {"field": "x", "type": "quantitative", "scale": {"domain": [-16, 340.7], "nice": false, "zero": false}, "axis": {"labels": false, "ticks": false, "title": null, "grid": true, "values": [0, 100, 200, 300]}},
           "y": {"field": "s", "type": "quantitative", "scale": {"domain": [-58.9, 111], "nice": false, "zero": false}, "axis": {"orient": "left", "title": "SHAP", "grid": true, "values": [-40, -20, 0, 20, 40, 60, 80, 100]}},
           "fill": {"field": "s", "type": "quantitative", "scale": {"domain": [-103, -51.5, 0, 51.5, 103], "range": ["#2b2d42", "#8d99ae", "#ffffff", "#d90429", "#ef233c"], "interpolate": "rgb"},
             "legend": {"orient": "none", "legendX": 258, "legendY": 0, "direction": "vertical", "title": null, "gradientLength": 180, "gradientThickness": 16, "gradientStrokeColor": "#333", "gradientStrokeWidth": 0.6, "labelOffset": 6, "values": [-100, -75, -50, -25, 0, 25, 50, 75, 100]}}
         }},
        {"data": {"name": "pe"}, "mark": {"type": "line", "strokeWidth": 2},
         "encoding": {
           "x": {"field": "x", "type": "quantitative", "scale": {"domain": [-16, 340.7], "nice": false, "zero": false}, "axis": null},
           "y": {"field": "p", "type": "quantitative", "scale": {"domain": [-42.2, 63.7], "nice": false, "zero": false}, "axis": null},
           "color": {"datum": "PDP", "scale": {"domain": ["PDP"], "range": ["#606060"]}, "legend": {"orient": "none", "legendX": 44, "legendY": -26, "title": null, "symbolType": "stroke", "symbolSize": 484, "symbolStrokeWidth": 2, "labelOffset": 6}}
         }},
        {"data": {"values": [{"x": 65.23, "lab": "Median: 65.23"}, {"x": 18.82, "lab": "Threshold: 18.82"}]}, "mark": {"type": "rule", "strokeDash": [4, 3], "strokeWidth": 1.2},
         "encoding": {
           "x": {"field": "x", "type": "quantitative", "scale": {"domain": [-16, 340.7], "nice": false, "zero": false}, "axis": null},
           "stroke": {"field": "lab", "type": "nominal", "scale": {"domain": ["Median: 65.23", "Threshold: 18.82"], "range": ["#808080", "#e8485b"]},
             "legend": {"orient": "none", "legendX": 109, "legendY": 137, "title": null, "symbolType": "stroke", "symbolDash": [4, 3], "symbolStrokeWidth": 1.2, "symbolSize": 400, "fillColor": "rgba(255,255,255,0.8)", "strokeColor": "#d8d8d8", "padding": 4, "cornerRadius": 3, "rowPadding": 0, "labelOffset": 8}}
         }}
      ]
    },
    {
      "width": 215, "height": 180, "title": "(f) NDSI Impact",
      "resolve": {"scale": {"y": "independent"}},
      "layer": [
        {"data": {"name": "pf"}, "mark": {"type": "area", "fill": "#dcdcdc"},
         "encoding": {
           "x": {"field": "x", "type": "quantitative", "scale": {"domain": [-20, 412], "nice": false, "zero": false}, "axis": null},
           "y": {"field": "lo", "type": "quantitative", "scale": {"domain": [-14.6, 41.2], "nice": false, "zero": false}, "axis": {"orient": "right", "title": "PDP", "titleAngle": 270, "titlePadding": 15, "values": [-10, 0, 10, 20, 30, 40]}},
           "y2": {"field": "hi"},
           "opacity": {"datum": "95% CI", "scale": {"domain": ["95% CI"], "range": [0.75]}, "legend": {"orient": "none", "legendX": 111, "legendY": -26, "title": null, "symbolType": "M-1,-0.33H1V0.33H-1Z", "symbolSize": 441, "symbolFillColor": "#e3e3e3", "symbolStrokeColor": "transparent", "symbolStrokeWidth": 0, "labelOffset": 6}}
         }},
        {"data": {"name": "sf"}, "mark": {"type": "circle", "size": 22, "opacity": 0.85},
         "encoding": {
           "x": {"field": "x", "type": "quantitative", "scale": {"domain": [-20, 412], "nice": false, "zero": false}, "axis": {"labels": false, "ticks": false, "title": null, "grid": true, "values": [0, 100, 200, 300, 400]}},
           "y": {"field": "s", "type": "quantitative", "scale": {"domain": [-46.9, 51.3], "nice": false, "zero": false}, "axis": {"orient": "left", "title": "SHAP", "grid": true, "values": [-40, -20, 0, 20, 40]}},
           "fill": {"field": "s", "type": "quantitative", "scale": {"domain": [-46.6, -23.3, 0, 23.3, 46.6], "range": ["#2b2d42", "#8d99ae", "#ffffff", "#d90429", "#ef233c"], "interpolate": "rgb"},
             "legend": {"orient": "none", "legendX": 259, "legendY": 0, "direction": "vertical", "title": null, "gradientLength": 180, "gradientThickness": 16, "gradientStrokeColor": "#333", "gradientStrokeWidth": 0.6, "labelOffset": 6, "values": [-40, -20, 0, 20, 40]}}
         }},
        {"data": {"name": "pf"}, "mark": {"type": "line", "strokeWidth": 2},
         "encoding": {
           "x": {"field": "x", "type": "quantitative", "scale": {"domain": [-20, 412], "nice": false, "zero": false}, "axis": null},
           "y": {"field": "p", "type": "quantitative", "scale": {"domain": [-14.6, 41.2], "nice": false, "zero": false}, "axis": null},
           "color": {"datum": "PDP", "scale": {"domain": ["PDP"], "range": ["#606060"]}, "legend": {"orient": "none", "legendX": 44, "legendY": -26, "title": null, "symbolType": "stroke", "symbolSize": 484, "symbolStrokeWidth": 2, "labelOffset": 6}}
         }},
        {"data": {"values": [{"x": 68.11, "lab": "Median: 68.11"}, {"x": 9.89, "lab": "Threshold: 9.89"}]}, "mark": {"type": "rule", "strokeDash": [4, 3], "strokeWidth": 1.2},
         "encoding": {
           "x": {"field": "x", "type": "quantitative", "scale": {"domain": [-20, 412], "nice": false, "zero": false}, "axis": null},
           "stroke": {"field": "lab", "type": "nominal", "scale": {"domain": ["Median: 68.11", "Threshold: 9.89"], "range": ["#808080", "#e8485b"]},
             "legend": {"orient": "none", "legendX": 114, "legendY": 137, "title": null, "symbolType": "stroke", "symbolDash": [4, 3], "symbolStrokeWidth": 1.2, "symbolSize": 400, "fillColor": "rgba(255,255,255,0.8)", "strokeColor": "#d8d8d8", "padding": 4, "cornerRadius": 3, "rowPadding": 0, "labelOffset": 8}}
         }}
      ]
    },
    {
      "width": 215, "height": 46, "data": {"name": "hd"},
      "mark": {"type": "bar", "color": "#ef233c", "opacity": 0.8, "stroke": "white", "strokeWidth": 0.6},
      "encoding": {
        "x": {"field": "b0", "type": "quantitative", "scale": {"domain": [-16, 338], "nice": false, "zero": false}, "axis": {"title": "SAVI", "values": [0, 100, 200, 300]}},
        "x2": {"field": "b1"},
        "y": {"field": "n", "type": "quantitative", "scale": {"domain": [0, 95], "nice": false}, "axis": {"title": "Count", "values": [0, 50]}},
        "y2": {"datum": 0}
      }
    },
    {
      "width": 215, "height": 46, "data": {"name": "he"},
      "mark": {"type": "bar", "color": "#ef233c", "opacity": 0.8, "stroke": "white", "strokeWidth": 0.6},
      "encoding": {
        "x": {"field": "b0", "type": "quantitative", "scale": {"domain": [-16, 340.7], "nice": false, "zero": false}, "axis": {"title": "NDVI", "values": [0, 100, 200, 300]}},
        "x2": {"field": "b1"},
        "y": {"field": "n", "type": "quantitative", "scale": {"domain": [0, 115], "nice": false}, "axis": {"title": "Count", "values": [0, 100]}},
        "y2": {"datum": 0}
      }
    },
    {
      "width": 215, "height": 46, "data": {"name": "hf"},
      "mark": {"type": "bar", "color": "#ef233c", "opacity": 0.8, "stroke": "white", "strokeWidth": 0.6},
      "encoding": {
        "x": {"field": "b0", "type": "quantitative", "scale": {"domain": [-20, 412], "nice": false, "zero": false}, "axis": {"title": "NDSI", "values": [0, 100, 200, 300, 400]}},
        "x2": {"field": "b1"},
        "y": {"field": "n", "type": "quantitative", "scale": {"domain": [0, 115], "nice": false}, "axis": {"title": "Count", "values": [0, 100]}},
        "y2": {"datum": 0}
      }
    }
  ]
}
